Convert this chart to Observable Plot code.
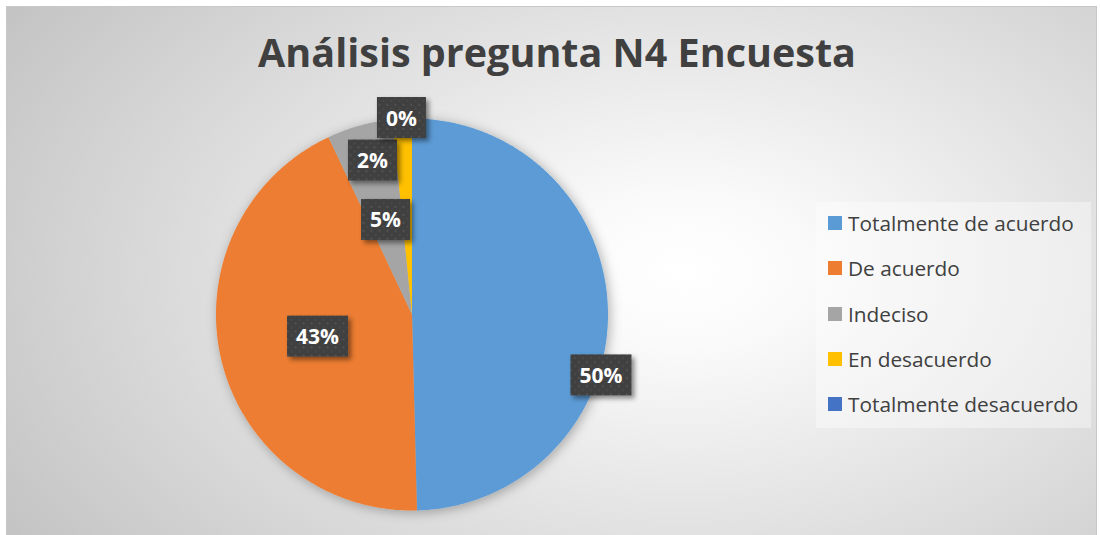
<!DOCTYPE html>
<html>
<head>
<meta charset="utf-8">
<script src="https://cdn.jsdelivr.net/npm/d3@7"></script>
<script src="https://cdn.jsdelivr.net/npm/@observablehq/plot@0.6"></script>
<style>
  html, body { margin: 0; padding: 0; background: #ffffff; }
  body { width: 1100px; height: 535px; position: relative; overflow: hidden; font-family: "Open Sans", sans-serif; }
  #bg {
    position: absolute; left: 6px; top: 6px; width: 1091px; height: 529px; box-sizing: border-box;
    border: 1px solid #c8c8c8; border-bottom: none;
    background: radial-gradient(ellipse 75% 95% at 62% 50%, #ffffff 0%, #fafafa 15%, #c2c2c2 100%);
  }
  #title {
    position: absolute; left: 557px; top: 30px; transform: translateX(-50%);
    white-space: nowrap; font-family: "Open Sans", sans-serif; font-weight: 700; font-size: 39.5px;
    line-height: 44px; color: #404040;
  }
  #plot { position: absolute; left: 0; top: 0; }
  #legend {
    position: absolute; left: 816px; top: 202px; width: 275px; height: 226px;
    background: rgba(255,255,255,0.38);
  }
  .item { position: absolute; left: 12px; height: 30px; display: flex; align-items: center;
    font-family: "Open Sans", sans-serif; font-size: 20.8px; color: #404040; white-space: nowrap; }
  .sw { width: 14px; height: 14px; margin-right: 6px; flex: none; }
</style>
</head>
<body>
<div id="bg"></div>
<div id="title"></div>
<div id="plot"></div>
<div id="legend"></div>
<script>
// ---------- data ----------
const categories = ["Totalmente de acuerdo", "De acuerdo", "Indeciso", "En desacuerdo", "Totalmente desacuerdo"];
const shares = [49.6, 43.4, 5.4, 1.6, 0];
const titleText = "Análisis pregunta N4 Encuesta";

// ---------- style / layout ----------
const colors = ["#5B9BD5", "#ED7D31", "#A5A5A5", "#FFC000", "#4472C4"];
const cx = 411.5, cy = 314, R = 196;
// label placement rule per slice: angle shift (deg) from slice mid-angle, radius fraction
const labelShift = [18.8, -0.3, -0.3, -11.6, -3.1];
const labelRadius = [1.014, 0.496, 0.497, 0.807, 1.0];
const legendRowTop = 21, legendRowStep = 45.3;

document.getElementById("title").textContent = titleText;

const total = d3.sum(shares);
const arcs = d3.pie().sort(null).value(d => d)(shares);

// slice polygons in unit-circle data coordinates (angle clockwise from 12 o'clock)
const slicePts = [];
arcs.forEach((a, i) => {
  const key = categories[i];
  slicePts.push({key, x: 0, y: 0});
  const span = a.endAngle - a.startAngle;
  const n = Math.max(1, Math.ceil(span / (Math.PI / 360)));
  for (let k = 0; k <= n; k++) {
    const t = a.startAngle + span * k / n;
    slicePts.push({key, x: Math.sin(t), y: Math.cos(t)});
  }
});

const labels = arcs.map((a, i) => {
  const mid = (a.startAngle + a.endAngle) / 2 + labelShift[i] * Math.PI / 180;
  return {
    x: labelRadius[i] * Math.sin(mid),
    y: labelRadius[i] * Math.cos(mid),
    text: Math.round(100 * shares[i] / total) + "%"
  };
});

const svg = Plot.plot({
  width: 1100, height: 535, margin: 0,
  x: {domain: [-1, 1], range: [cx - R, cx + R], axis: null},
  y: {domain: [-1, 1], range: [cy + R, cy - R], axis: null},
  color: {domain: categories, range: colors},
  style: {background: "transparent", overflow: "visible"},
  marks: [
    Plot.line(slicePts, {x: "x", y: "y", z: "key", fill: "key", stroke: "none", curve: "linear-closed"}),
    Plot.text(labels, {x: "x", y: "y", text: "text", fill: "white", fontSize: 21, fontWeight: "bold", fontFamily: "Open Sans"})
  ]
});
document.getElementById("plot").appendChild(svg);

// decorations: pie shadow, patterned label boxes
const ns = "http://www.w3.org/2000/svg";
const defs = document.createElementNS(ns, "defs");
defs.innerHTML = `
  <pattern id="dots" width="8" height="8" patternUnits="userSpaceOnUse">
    <rect width="8" height="8" fill="#404040"></rect>
    <circle cx="2" cy="2" r="1" fill="#565656"></circle>
    <circle cx="6" cy="6" r="1" fill="#4c4c4c"></circle>
  </pattern>
  <filter id="pieShadow" x="-20%" y="-20%" width="140%" height="140%">
    <feDropShadow dx="2" dy="2" stdDeviation="6" flood-color="#000" flood-opacity="0.3"></feDropShadow>
  </filter>
  <filter id="boxShadow" x="-30%" y="-30%" width="160%" height="160%">
    <feDropShadow dx="3" dy="3" stdDeviation="2.5" flood-color="#000" flood-opacity="0.45"></feDropShadow>
  </filter>`;
svg.insertBefore(defs, svg.firstChild);
const lineG = svg.querySelector('g[aria-label="line"]');
if (lineG) lineG.setAttribute("filter", "url(#pieShadow)");
const textG = svg.querySelector('g[aria-label="text"]');
if (textG) {
  textG.querySelectorAll("text").forEach(t => {
    const b = t.getBBox();
    const w = b.width + 18, h = 41;
    const r = document.createElementNS(ns, "rect");
    r.setAttribute("x", b.x + b.width / 2 - w / 2);
    r.setAttribute("y", b.y + b.height / 2 - h / 2);
    r.setAttribute("width", w);
    r.setAttribute("height", h);
    r.setAttribute("fill", "url(#dots)");
    r.setAttribute("filter", "url(#boxShadow)");
    if (t.getAttribute("transform")) r.setAttribute("transform", t.getAttribute("transform"));
    t.parentNode.insertBefore(r, t);
  });
}

// legend
const legend = document.getElementById("legend");
categories.forEach((c, i) => {
  const it = document.createElement("div");
  it.className = "item";
  it.style.top = (legendRowTop + i * legendRowStep - 15) + "px";
  const sw = document.createElement("span");
  sw.className = "sw";
  sw.style.background = colors[i];
  const tx = document.createElement("span");
  tx.textContent = c;
  it.appendChild(sw); it.appendChild(tx);
  legend.appendChild(it);
});
</script>
</body>
</html>
